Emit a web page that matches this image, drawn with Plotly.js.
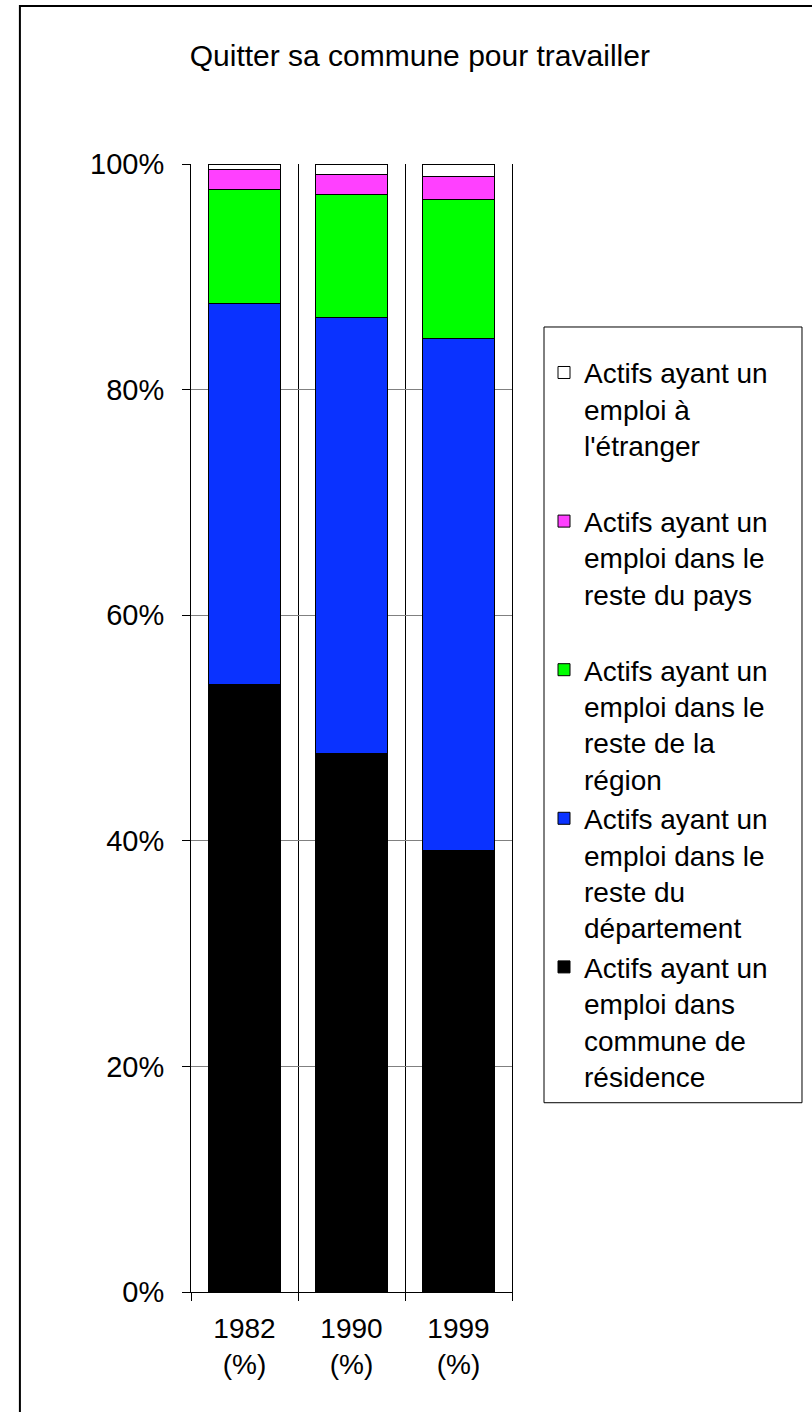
<!DOCTYPE html>
<html>
<head>
<meta charset="utf-8">
<script src="https://cdn.plot.ly/plotly-3.0.1.min.js"></script>
<style>html,body{margin:0;padding:0;background:#fff;}</style>
</head>
<body>
<div id="chart" style="width:812px;height:1412px;"></div>
<script>
const categories = ['1982<br>(%)', '1990<br>(%)', '1999<br>(%)'];
const commune = [53.9, 47.7, 39.1];
const departement = [33.75, 38.65, 45.45];
const region = [10.11, 10.99, 12.32];
const pays = [1.77, 1.75, 1.98];
const etranger = [0.47, 0.91, 1.12];
const yTicks = [0, 20, 40, 60, 80, 100];

const names = [
  "Actifs ayant un<br>emploi dans<br>commune de<br>résidence",
  "Actifs ayant un<br>emploi dans le<br>reste du<br>département",
  "Actifs ayant un<br>emploi dans le<br>reste de la<br>région",
  "Actifs ayant un<br>emploi dans le<br>reste du pays<br>\u00a0",
  "Actifs ayant un<br>emploi à<br>l'étranger<br>\u00a0"
];
const series = [commune, departement, region, pays, etranger];
const colors = ['#000000', '#0A32FF', '#00FF00', '#FF40FF', '#FFFFFF'];

const traces = series.map((vals, i) => ({
  type: 'bar',
  x: categories,
  y: vals,
  name: names[i],
  marker: {color: colors[i], line: {color: '#000000', width: 1}},
  hoverinfo: 'skip'
}));

const font = 'Arial, "Liberation Sans", sans-serif';
const layout = {
  width: 812, height: 1412,
  margin: {l: 191, r: 300, t: 164, b: 120, pad: 0},
  paper_bgcolor: '#fff', plot_bgcolor: '#fff',
  barmode: 'stack',
  bargap: 0.327,
  font: {family: font, size: 28, color: '#000'},
  title: {
    text: 'Quitter sa commune pour travailler',
    font: {family: font, size: 30, color: '#000'},
    xref: 'container', x: 0.517, xanchor: 'center',
    yref: 'container', y: 0.961, yanchor: 'middle'
  },
  xaxis: {
    type: 'category',
    tickson: 'boundaries',
    ticks: 'outside', ticklen: 8, tickcolor: '#000', tickwidth: 1,
    showgrid: true, gridcolor: '#000', gridwidth: 1,
    showline: true, linecolor: '#000', linewidth: 1,
    ticklabelstandoff: 11,
    tickfont: {family: font, size: 28, color: '#000'},
    fixedrange: true
  },
  yaxis: {
    range: [0, 100],
    tickvals: yTicks,
    ticktext: yTicks.map(v => v + '%'),
    ticks: 'outside', ticklen: 8, tickcolor: '#000', tickwidth: 1,
    showgrid: true, gridcolor: '#808080', gridwidth: 1,
    showline: true, linecolor: '#000', linewidth: 1, mirror: true,
    zeroline: false,
    ticklabelstandoff: 12,
    tickfont: {family: font, size: 29, color: '#000'},
    fixedrange: true
  },
  legend: {
    x: 1.0997, xanchor: 'left',
    y: 0.8555, yanchor: 'top',
    traceorder: 'reversed',
    valign: 'top',
    bgcolor: 'rgba(0,0,0,0)',
    borderwidth: 0,
    font: {family: font, size: 28, color: '#000'},
    title: {text: '\u00a0', font: {family: font, size: 16}}
  },
  shapes: [{
    type: 'rect', xref: 'paper', yref: 'paper',
    x0: -0.533, x1: 2.0, y0: -0.3, y1: 1.14,
    line: {color: '#000', width: 2}, fillcolor: 'rgba(0,0,0,0)',
    layer: 'above'
  }, {
    type: 'rect', xref: 'paper', yref: 'paper',
    x0: 1.0997, x1: 1.9034, y0: 0.1678, y1: 0.8555,
    line: {color: '#000', width: 1}, fillcolor: 'rgba(0,0,0,0)',
    layer: 'above'
  }],
  showlegend: true
};

Plotly.newPlot('chart', traces, layout, {displayModeBar: false, staticPlot: true});
</script>
</body>
</html>
